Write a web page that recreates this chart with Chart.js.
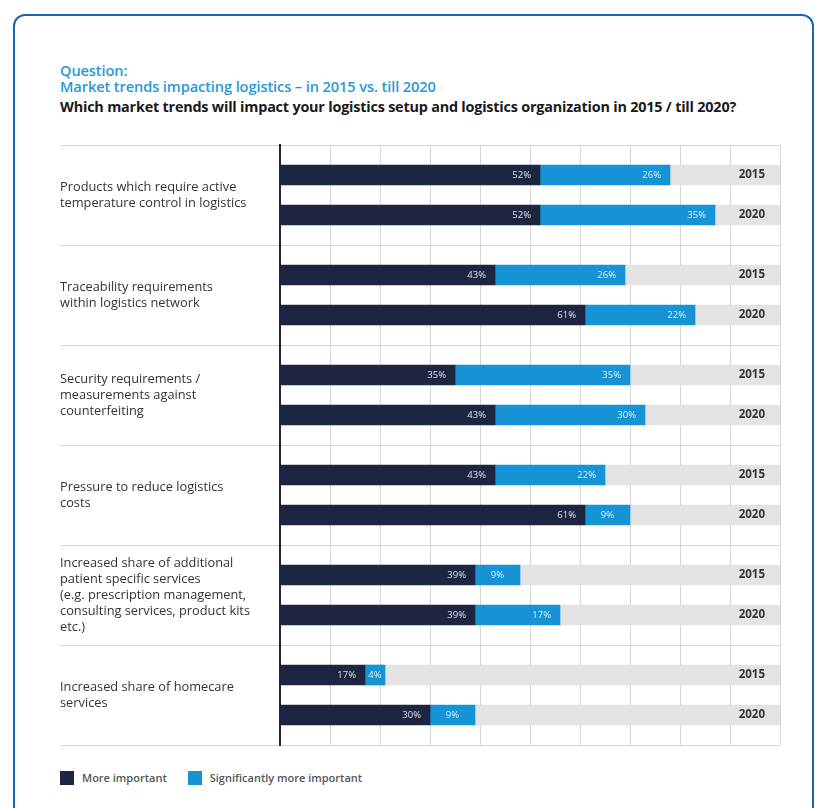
<!DOCTYPE html>
<html>
<head>
<meta charset="utf-8">
<script src="https://cdn.jsdelivr.net/npm/chart.js@4.4.1/dist/chart.umd.min.js"></script>
<style>
  body { margin: 0; background: #fff; font-family: "Open Sans", sans-serif; }
  #frame { position: absolute; left: 13px; top: 14px; width: 797px; height: 830px;
           border: 2.5px solid #1f63b3; border-radius: 12px; }
  .q { position: absolute; left: 60px; color: #2a98d5; font-size: 14.6px; font-weight: 600;
       white-space: nowrap; letter-spacing: -0.1px; line-height: 16px; }
  #q1 { top: 62px; }
  #q2 { top: 78px; }
  #q3 { position: absolute; left: 60px; top: 98px; font-size: 14.4px; font-weight: 700; color: #1a1a1a;
        white-space: nowrap; letter-spacing: -0.2px; line-height: 18px; }
  #wrap { position: absolute; left: 50px; top: 137px; width: 740px; height: 616px; }
  #legend { position: absolute; left: 60px; top: 769px; font-size: 11px; font-weight: 600; color: #555; }
  #legend span { display: inline-block; vertical-align: middle; }
  #legend .box { width: 14px; height: 14px; margin-right: 8px; }
  #legend .txt { margin-right: 21px; line-height: 14px; }
</style>
</head>
<body>
<div id="frame"></div>
<div class="q" id="q1">Question:</div>
<div class="q" id="q2">Market trends impacting logistics – in 2015 vs. till 2020</div>
<div id="q3">Which market trends will impact your logistics setup and logistics organization in 2015 / till 2020?</div>
<div id="wrap"><canvas id="trendChart"></canvas></div>
<div id="legend"></div>

<script>
const groupLabels = [
    ["Products which require active", "temperature control in logistics"],
    ["Traceability requirements", "within logistics network"],
    ["Security requirements /", "measurements against", "counterfeiting"],
    ["Pressure to reduce logistics", "costs"],
    ["Increased share of additional", "patient specific services", "(e.g. prescription management,", "consulting services, product kits", "etc.)"],
    ["Increased share of homecare", "services"],
];
const years = ["2015", "2020"];
const more2015 = [52, 43, 35, 43, 39, 17];
const sig2015  = [26, 26, 35, 22, 9, 4];
const more2020 = [52, 61, 43, 61, 39, 30];
const sig2020  = [35, 22, 30, 9, 17, 9];

const NAVY = '#1e2541';
const BLUE = '#1693d4';
const BAND = '#e3e3e3';
const GRID = '#d6d6d6';

// five rows per topic: gap, 2015 bar, topic label, 2020 bar, gap
let rowLabels = [], rowYears = [], rowMore = [], rowSig = [], rowRest = [];
groupLabels.forEach((name, g) => {
    rowLabels.push('', '', name, '', '');
    rowYears.push('', years[0], '', years[1], '');
    rowMore.push(null, more2015[g], null, more2020[g], null);
    rowSig.push(null, sig2015[g], null, sig2020[g], null);
    rowRest.push(null, 100 - more2015[g] - sig2015[g], null, 100 - more2020[g] - sig2020[g], null);
});

// percent values inside the bars and the year at the end of each grey band
const barText = {
    id: 'barText',
    afterDatasetsDraw(chart) {
        const ctx = chart.ctx;
        const area = chart.chartArea;
        const yScale = chart.scales.y;
        ctx.save();
        ctx.textBaseline = 'middle';
        ctx.font = '9.5px "Open Sans"';
        ctx.fillStyle = 'rgba(255,255,255,0.85)';
        [0, 1].forEach(d => {
            chart.getDatasetMeta(d).data.forEach((bar, i) => {
                const v = chart.data.datasets[d].data[i];
                if (v == null) return;
                const p = bar.getProps(['x', 'base', 'y'], true);
                const w = p.x - p.base;
                if (w < 50) {
                    ctx.textAlign = 'center';
                    ctx.fillText(v + '%', p.base + w / 2, p.y);
                } else {
                    ctx.textAlign = 'right';
                    ctx.fillText(v + '%', p.x - 9, p.y);
                }
            });
        });
        ctx.font = 'bold 11.5px "Open Sans"';
        ctx.fillStyle = '#333';
        ctx.textAlign = 'right';
        rowYears.forEach((t, i) => {
            if (t) ctx.fillText(t, area.right - 15, yScale.getPixelForValue(i));
        });
        ctx.restore();
    },
};

const config = {
    type: 'bar',
    data: {
        labels: rowLabels,
        datasets: [
            { label: 'More important', data: rowMore, backgroundColor: NAVY },
            { label: 'Significantly more important', data: rowSig, backgroundColor: BLUE },
            { label: 'rest', data: rowRest, backgroundColor: BAND },
        ],
    },
    options: {
        indexAxis: 'y',
        animation: false,
        responsive: true,
        maintainAspectRatio: false,
        layout: { padding: { left: 10, right: 10, top: 0, bottom: 0 } },
        datasets: { bar: { categoryPercentage: 1, barPercentage: 1 } },
        plugins: {
            legend: { display: false },
            tooltip: { enabled: false },
        },
        scales: {
            x: {
                stacked: true,
                min: 0,
                max: 100,
                ticks: { display: false, stepSize: 10 },
                grid: { color: GRID, drawTicks: false },
                border: { display: false },
            },
            y: {
                stacked: true,
                ticks: {
                    autoSkip: false,
                    crossAlign: 'far',
                    padding: 0,
                    color: '#333',
                    font: { family: 'Open Sans', size: 12.8, lineHeight: '16px' },
                },
                grid: {
                    color: c => (c.index === undefined || c.index % 5 === 0) ? GRID : 'rgba(0,0,0,0)',
                    tickLength: 220,
                },
                border: { color: NAVY, width: 2 },
                afterFit: s => { s.width = 220; },
            },
        },
    },
    plugins: [barText],
};

const chart = new Chart(document.getElementById('trendChart'), config);

// legend for the two coloured series
const legendEl = document.getElementById('legend');
chart.data.datasets.slice(0, 2).forEach(ds => {
    legendEl.insertAdjacentHTML('beforeend',
        '<span class="box" style="background:' + ds.backgroundColor + '"></span>' +
        '<span class="txt">' + ds.label + '</span>');
});
</script>
</body>
</html>
